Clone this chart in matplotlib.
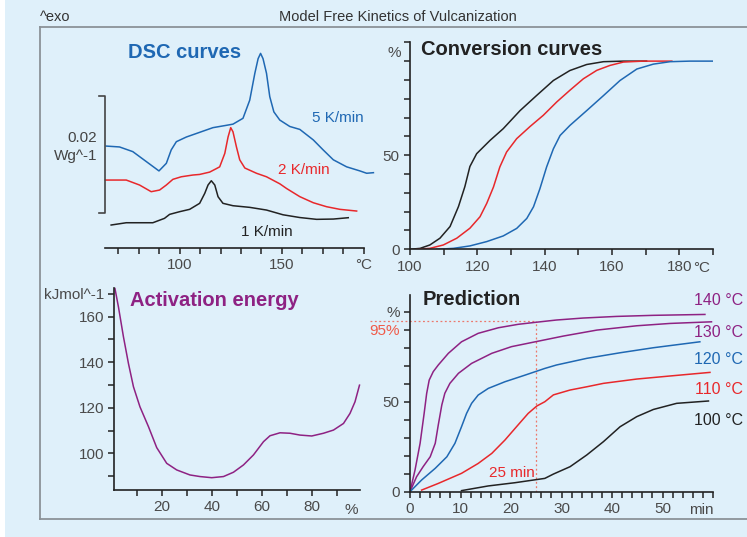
import numpy as np
import matplotlib.pyplot as plt

plt.rcParams['font.family'] = ['Liberation Sans', 'DejaVu Sans']

# ---- DSC curves (temperature in C, heat flow in mW/g, offset per rate) ----
dsc5_T = [64.1, 70.6, 77.1, 83.7, 89.9, 93.5, 95.9, 98.4, 103.3, 109.8, 116.3, 122.9, 126.1, 131.0,
          134.3, 136.8, 138.4, 139.6, 140.8, 142.5, 144.1, 146.1, 149.0, 153.9, 158.8, 165.4, 170.2,
          175.2, 181.7, 188.2, 191.5, 194.8]
dsc5_y = [11.45, 11.3, 10.5, 8.8, 7.2, 8.5, 10.8, 12.2, 13.0, 13.8, 14.6, 15.0, 15.2, 16.2,
          19.3, 23.9, 26.4, 27.3, 26.4, 23.9, 19.9, 17.3, 15.9, 14.8, 14.3, 12.5, 10.8,
          9.1, 7.9, 7.2, 6.8, 6.9]
dsc2_T = [63.7, 73.9, 80.4, 86.1, 90.2, 93.5, 96.7, 100.8, 106.5, 109.8, 114.7, 118.0, 119.6, 122.1,
          123.7, 125.0, 126.1, 127.8, 129.4, 131.9, 137.6, 142.5, 149.0, 152.3, 158.8, 165.4, 171.9,
          178.4, 186.6]
dsc2_y = [5.64, 5.64, 4.79, 3.65, 3.93, 4.79, 5.76, 6.2, 6.5, 6.6, 7.0, 7.6, 7.9, 10.2,
          13.0, 14.6, 13.9, 11.3, 9.1, 7.7, 6.8, 6.2, 5.0, 4.2, 2.8, 1.76, 1.08,
          0.63, 0.34]
dsc1_T = [66.5, 73.9, 80.4, 86.9, 92.6, 95.1, 100.0, 104.9, 109.8, 112.3, 113.9, 115.5, 117.2, 118.8,
          121.2, 126.1, 134.3, 142.5, 150.6, 158.8, 167.0, 175.2, 182.5]
dsc1_y = [-2.05, -1.66, -1.66, -1.66, -0.91, -0.23, 0.23, 0.63, 1.66, 3.37, 4.79, 5.52, 4.79, 2.79,
          1.66, 1.25, 0.97, 0.51, -0.3, -0.77, -1.08, -1.03, -0.8]

# ---- Conversion curves (C, %) ----
conv1_T = [100, 103.0, 105.9, 108.9, 111.9, 114.4, 116.3, 117.8, 119.8, 123.8, 127.7, 132.7, 137.6,
           142.6, 147.5, 152.5, 157.5, 163.4, 170.3]
conv1_y = [0, 0.5, 2.3, 5.9, 12.1, 22.7, 33.3, 44.0, 50.8, 57.9, 64.1, 73.7, 81.7,
           89.7, 95.0, 98.2, 99.7, 100, 100]
conv2_T = [102.0, 105.9, 109.9, 113.9, 117.8, 120.8, 122.8, 124.8, 126.7, 128.7, 131.7, 135.7, 139.6,
           143.6, 147.5, 151.5, 155.5, 159.4, 163.4, 169.3, 177.8]
conv2_y = [0, 0.5, 2.3, 5.9, 11.2, 17.3, 24.4, 33.1, 43.8, 51.7, 58.8, 65.3, 71.2,
           78.3, 84.5, 90.6, 95.1, 97.7, 99.5, 100, 100]
conv5_T = [107.9, 112.9, 117.8, 122.8, 127.7, 131.7, 134.7, 136.7, 138.6, 140.6, 142.6, 144.6, 147.5,
           152.5, 157.5, 162.4, 167.4, 172.3, 177.3, 183.2, 190.6]
conv5_y = [0, 0.5, 1.8, 4.1, 7.1, 11.1, 16.4, 22.6, 32.2, 43.8, 53.4, 60.5, 65.8,
           73.7, 81.7, 89.7, 95.8, 98.4, 99.7, 100, 100]

# ---- Activation energy (conversion %, kJ/mol) ----
ea_x = [1.3, 2.7, 4.7, 6.7, 8.7, 11.3, 14.7, 18.0, 22.0, 26.0, 31.3, 35.3, 40.0, 44.7, 48.7, 52.7,
        56.7, 60.7, 63.3, 67.3, 71.3, 75.3, 80.0, 84.7, 88.7, 92.7, 95.3, 97.3, 99.1]
ea_y = [172.3, 164.2, 151.1, 139.4, 129.2, 120.4, 111.7, 102.5, 95.6, 92.7, 90.5, 89.8, 89.3, 89.8,
        91.7, 94.9, 99.3, 105.1, 107.7, 109.0, 108.8, 108.0, 107.6, 108.8, 110.2, 113.1, 117.5,
        122.6, 129.9]

# ---- Prediction (min, %) ----
p140_t = [0, 1.0, 2.0, 2.8, 3.3, 3.8, 4.6, 5.6, 7.6, 10.2, 13.5, 17.5, 21.4, 24.8, 29.0, 34.3,
          40.9, 48.2, 58.4]
p140_y = [0, 12.1, 26.9, 43.5, 54.6, 62.0, 66.7, 70.4, 76.9, 83.3, 88.0, 91.1, 93.0, 94.1, 95.4, 96.5,
          97.4, 98.0, 98.5]
p130_t = [0, 1.3, 2.6, 4.0, 5.0, 5.6, 6.3, 6.9, 7.9, 9.6, 12.2, 16.2, 20.1, 24.8, 30.4, 37.0,
          44.9, 51.5, 59.7]
p130_y = [0, 8.3, 13.9, 19.4, 26.9, 37.1, 48.2, 54.7, 60.2, 65.8, 71.3, 76.9, 80.6, 83.3, 86.5, 89.8,
          92.2, 93.5, 94.4]
p120_t = [0, 2.3, 5.0, 7.3, 8.9, 10.2, 11.2, 12.2, 13.5, 15.5, 18.8, 22.8, 26.7, 29.0, 35.0, 41.6,
          48.2, 57.4]
p120_y = [0, 6.5, 13.0, 19.4, 26.9, 36.1, 43.5, 49.1, 53.7, 57.4, 61.1, 64.8, 68.5, 70.4, 74.1, 77.2,
          80.0, 83.3]
p110_t = [2.3, 5.6, 10.2, 13.5, 16.2, 18.8, 21.4, 23.4, 25.1, 26.7, 28.4, 31.7, 35.0, 38.3, 44.9,
          51.5, 59.4]
p110_y = [0.9, 4.6, 10.2, 15.7, 21.3, 28.7, 37.1, 43.5, 47.6, 50.0, 53.8, 56.5, 58.3, 60.2, 62.6,
          64.3, 66.3]
p100_t = [10.2, 15.5, 20.8, 26.7, 28.4, 31.7, 35.0, 38.3, 41.6, 44.9, 48.2, 52.8, 59.1]
p100_y = [0.6, 3.2, 5.0, 7.4, 9.8, 13.9, 20.4, 27.8, 36.1, 41.7, 45.7, 49.1, 50.4]
t95 = 25
y95 = 95

W, H = 747, 537
BG = '#dff0fa'
BLUE = '#1f68b3'
RED = '#e8282b'
BLACK = '#222222'
PURPLE = '#8e2283'
SALMON = '#f05a48'

fig = plt.figure(figsize=(W / 100, H / 100), dpi=100)
fig.patch.set_facecolor(BG)


def px_axes(l, t, r, b):
    ax = fig.add_axes([l / W, 1 - b / H, (r - l) / W, (b - t) / H])
    ax.patch.set_alpha(0)
    for s in ax.spines.values():
        s.set_linewidth(1.2)
        s.set_color(BLACK)
    ax.spines['top'].set_visible(False)
    ax.spines['right'].set_visible(False)
    ax.tick_params(direction='out', length=4.5, width=1.1, color=BLACK,
                   labelcolor='#4a4a4a', labelsize=11, pad=3)
    return ax


def ftext(x, y, s, **kw):
    fig.text(x / W, 1 - y / H, s, **kw)


# frame
fig.add_artist(plt.Rectangle((0, 0), 5 / W, 1, transform=fig.transFigure, color='white', lw=0))
fig.add_artist(plt.Line2D([40 / W, 1], [1 - 27 / H] * 2, color='#8b9298', lw=1.3))
fig.add_artist(plt.Line2D([40 / W] * 2, [1 - 27 / H, 1 - 519 / H], color='#8b9298', lw=1.3))
fig.add_artist(plt.Line2D([40 / W, 1], [1 - 519 / H] * 2, color='#8b9298', lw=1.3))
ftext(40, 21, '^exo', fontsize=10.5, color='#333333')
ftext(398, 21, 'Model Free Kinetics of Vulcanization', fontsize=10.5, color='#333333', ha='center')

# DSC panel
ax = px_axes(105, 30, 363.6, 248)
ax.set_xlim(63.5, 190)
ax.set_ylim(-5.98, 31.3)
ax.spines['left'].set_visible(False)
ax.set_yticks([])
ax.plot(dsc5_T, dsc5_y, color=BLUE, lw=1.1, clip_on=False)
ax.plot(dsc2_T, dsc2_y, color=RED, lw=1.1, clip_on=False)
ax.plot(dsc1_T, dsc1_y, color=BLACK, lw=1.1, clip_on=False)
ax.set_xticks(np.arange(70, 191, 10))
ax.set_xticklabels(['' if v not in (100, 150, 190) else ('°C' if v == 190 else str(v))
                    for v in range(70, 191, 10)])
ax.plot([60.8, 63.7, 63.7, 60.8], [20, 20, 0, 0], color='#444444', lw=1.2, clip_on=False)
ftext(97, 141.7, '0.02', fontsize=11, color='#444444', ha='right')
ftext(97, 160, 'Wg^-1', fontsize=11, color='#444444', ha='right')
ftext(128, 57.5, 'DSC curves', fontsize=14.5, fontweight='bold', color=BLUE)
ftext(312, 121.7, '5 K/min', fontsize=11, color=BLUE)
ftext(278, 174, '2 K/min', fontsize=11, color=RED)
ftext(241, 235.7, '1 K/min', fontsize=11, color=BLACK)

# Conversion panel
ax = px_axes(410, 42.3, 712.9, 249.3)
ax.set_xlim(100, 190)
ax.set_ylim(0, 110)
ax.plot(conv1_T, conv1_y, color=BLACK, lw=1.1)
ax.plot(conv2_T, conv2_y, color=RED, lw=1.1)
ax.plot(conv5_T, conv5_y, color=BLUE, lw=1.1)
ax.set_xticks(np.arange(100, 191, 10))
ax.set_xticklabels([str(v) if v in (100, 120, 140, 160, 180) else '' for v in range(100, 191, 10)])
ax.set_yticks(np.arange(0, 111, 10))
ax.set_yticklabels([str(v) if v in (0, 50) else '' for v in range(0, 111, 10)])
ftext(701.7, 272, '°C', fontsize=11, color='#4a4a4a', ha='center')
ftext(401, 57, '%', fontsize=11, color='#4a4a4a', ha='right')
ftext(420.7, 55, 'Conversion curves', fontsize=14.5, fontweight='bold', color=BLACK)

# Activation energy panel
ax = px_axes(114.3, 288.3, 360, 490)
ax.set_xlim(1.04, 99.3)
ax.set_ylim(83.9, 172.4)
ax.plot(ea_x, ea_y, color=PURPLE, lw=1.1, clip_on=False)
ax.set_xticks(np.arange(10, 91, 10))
ax.set_xticklabels([str(v) if v in (20, 40, 60, 80) else '' for v in range(10, 91, 10)])
ax.set_yticks(np.arange(90, 171, 10))
ax.set_yticklabels([str(v) if v in (100, 120, 140, 160) else ('kJmol^-1' if v == 170 else '')
                    for v in range(90, 171, 10)])
ftext(351.7, 513.5, '%', fontsize=11, color='#4a4a4a', ha='center')
ftext(130, 306, 'Activation energy', fontsize=14.5, fontweight='bold', color=PURPLE)

# Prediction panel
ax = px_axes(410, 295, 713, 491.7)
ax.set_xlim(0, 60)
ax.set_ylim(0, 109.3)
ax.plot([-8, t95], [y95, y95], color=SALMON, lw=0.9, ls=(0, (1.5, 2)), alpha=0.8, clip_on=False)
ax.plot([t95, t95], [0, y95], color=SALMON, lw=0.9, ls=(0, (1.5, 2)), alpha=0.8)
ax.plot(p140_t, p140_y, color=PURPLE, lw=1.1)
ax.plot(p130_t, p130_y, color=PURPLE, lw=1.1)
ax.plot(p120_t, p120_y, color=BLUE, lw=1.1)
ax.plot(p110_t, p110_y, color=RED, lw=1.1)
ax.plot(p100_t, p100_y, color=BLACK, lw=1.1)
ax.set_xticks(np.arange(0, 61, 2))
ax.set_xticklabels([str(v) if v in (0, 10, 20, 30, 40, 50) else '' for v in range(0, 61, 2)])
ax.set_yticks(np.arange(0, 101, 10))
ax.set_yticklabels([{0: '0', 50: '50', 100: '%'}.get(v, '') for v in range(0, 101, 10)])
ftext(701.7, 514, 'min', fontsize=11, color='#4a4a4a', ha='center')
ftext(400, 335, '95%', fontsize=11, color=SALMON, ha='right')
ftext(535, 476.7, '25 min', fontsize=11, color=RED, ha='right')
ftext(423, 305, 'Prediction', fontsize=14.5, fontweight='bold', color=BLACK)
ftext(743, 305, '140 °C', fontsize=11.5, color=PURPLE, ha='right')
ftext(743, 336.7, '130 °C', fontsize=11.5, color=PURPLE, ha='right')
ftext(743, 364, '120 °C', fontsize=11.5, color=BLUE, ha='right')
ftext(743, 394, '110 °C', fontsize=11.5, color=RED, ha='right')
ftext(743, 425, '100 °C', fontsize=11.5, color=BLACK, ha='right')

fig.savefig('out.png', dpi=100, facecolor=fig.get_facecolor())
